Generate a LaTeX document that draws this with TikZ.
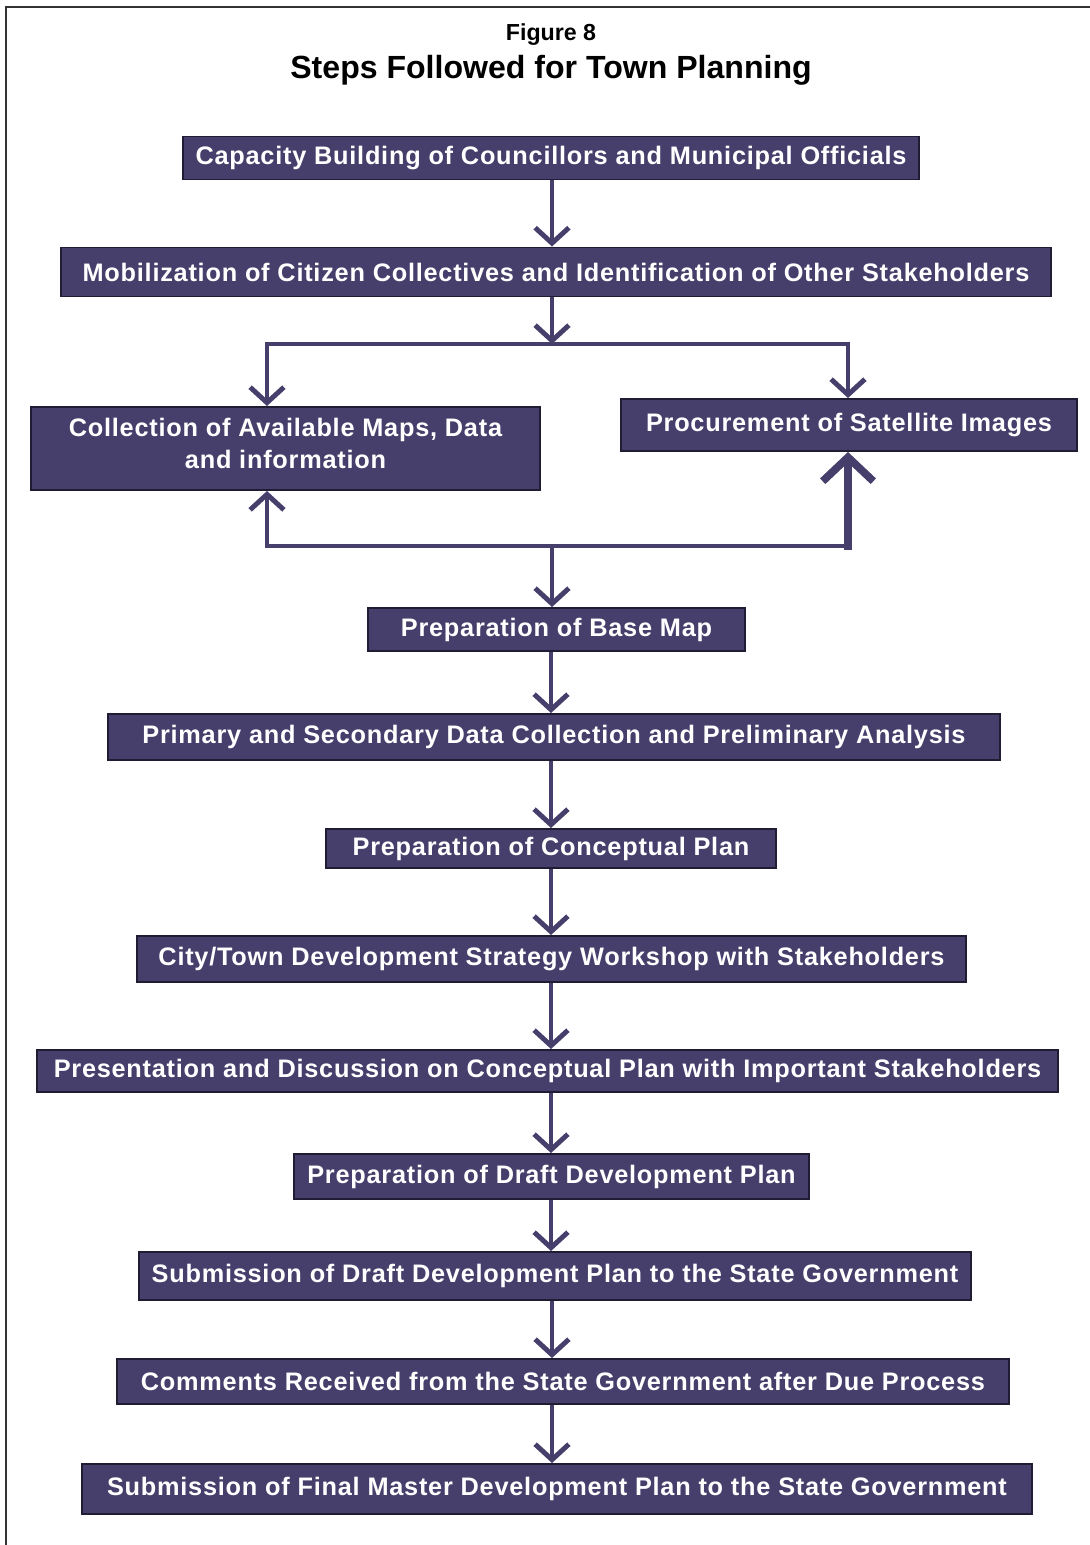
\documentclass[tikz,border=0pt]{standalone}
\usepackage{fontspec}
\setmainfont{Liberation Sans}
\usetikzlibrary{arrows.meta,positioning,calc}
\definecolor{planpurple}{HTML}{463F6B}
\definecolor{planedge}{HTML}{1F1D33}

\begin{document}
\begin{tikzpicture}[x=0.025cm,y=-0.025cm,
    stepbox/.style={draw=planedge, fill=planpurple, line width=1.4pt, text=white,
        font=\bfseries\fontsize{18}{22.5}\selectfont\addfontfeatures{LetterSpace=3}, inner sep=0pt, align=center},
    flow/.style={draw=planpurple, line width=3.5pt, -{Straight Barb[length=11pt,width=24pt]}},
    link/.style={draw=planpurple, line width=3.5pt}
]
    \useasboundingbox (0,0) rectangle (1090,1545);
    % frame
    \draw[line width=1.4pt, black!80] (6,1545) -- (6,7) -- (1090,7);

    % title
    \node (fig) at (551,35) {\bfseries\fontsize{16.5}{19}\selectfont Figure 8};
    \node (title) at (551,70) {\bfseries\fontsize{22.8}{27}\selectfont Steps Followed for Town Planning};

    % steps
    \node[stepbox, minimum width=18.4cm, minimum height=1.075cm] (cap) at (551,158) {Capacity Building of Councillors and Municipal Officials};
    \node[stepbox, minimum width=24.75cm, minimum height=1.225cm] (mob) at (556,272) {Mobilization of Citizen Collectives and Identification of Other Stakeholders};
    \node[stepbox, minimum width=12.725cm, minimum height=2.075cm] (coll) at (285.5,448.5) {Collection of Available Maps, Data\\and information\rule[-7pt]{0pt}{0pt}};
    \node[stepbox, minimum width=11.4cm, minimum height=1.3cm] (proc) at (849,425) {Procurement of Satellite Images};
    \node[stepbox, minimum width=9.425cm, minimum height=1.075cm] (base) at (556.5,629.5) {Preparation of Base Map};
    \node[stepbox, minimum width=22.3cm, minimum height=1.15cm] (prim) at (554,737) {Primary and Secondary Data Collection and Preliminary Analysis};
    \node[stepbox, minimum width=11.25cm, minimum height=0.975cm] (concept) at (551,848.5) {Preparation of Conceptual Plan};
    \node[stepbox, minimum width=20.725cm, minimum height=1.15cm] (city) at (551.5,959) {City/Town Development Strategy Workshop with Stakeholders};
    \node[stepbox, minimum width=25.525cm, minimum height=1.05cm] (pres) at (547.5,1071) {Presentation and Discussion on Conceptual Plan with Important Stakeholders};
    \node[stepbox, minimum width=12.875cm, minimum height=1.125cm] (draft) at (551.5,1176.5) {Preparation of Draft Development Plan};
    \node[stepbox, minimum width=20.8cm, minimum height=1.2cm] (subm) at (555,1276) {Submission of Draft Development Plan to the State Government};
    \node[stepbox, minimum width=22.3cm, minimum height=1.125cm] (comm) at (563,1381.5) {Comments Received from the State Government after Due Process};
    \node[stepbox, minimum width=23.75cm, minimum height=1.25cm] (final) at (557,1489) {Submission of Final Master Development Plan to the State Government};

    % junctions
    \coordinate (spine) at (551,0);
    \coordinate (splitT) at (552,344);
    \coordinate (splitTL) at (267,344);
    \coordinate (splitTR) at (848,344);
    \coordinate (joinB) at (552,546);
    \coordinate (joinBL) at (267,546);
    \coordinate (joinBR) at (848,546);

    % connectors
    \draw[flow] (cap.south -| splitT) -- (mob.north -| splitT);
    \draw[flow] (mob.south -| splitT) -- (splitT);
    \draw[link] (splitTL) -- (splitTR);
    \draw[flow] ([yshift=1.75pt]splitTL) -- (splitTL |- coll.north);
    \draw[flow] ([yshift=1.75pt]splitTR) -- (splitTR |- proc.north);
    \draw[link] (joinBL) -- (joinBR);
    \draw[flow] ([yshift=-1.75pt]joinBL) -- (joinBL |- coll.south);
    \draw[flow, line width=5.5pt, -{Straight Barb[length=17pt,width=36pt]}] ([yshift=-2.75pt]joinBR) -- (joinBR |- proc.south);
    \draw[flow] (joinB) -- (base.north -| joinB);
    \draw[flow] (base.south -| spine) -- (prim.north -| spine);
    \draw[flow] (prim.south -| spine) -- (concept.north -| spine);
    \draw[flow] (concept.south -| spine) -- (city.north -| spine);
    \draw[flow] (city.south -| spine) -- (pres.north -| spine);
    \draw[flow] (pres.south -| spine) -- (draft.north -| spine);
    \draw[flow] (draft.south -| spine) -- (subm.north -| spine);
    \draw[flow] (subm.south -| splitT) -- (comm.north -| splitT);
    \draw[flow] (comm.south -| splitT) -- (final.north -| splitT);
\end{tikzpicture}
\end{document}
